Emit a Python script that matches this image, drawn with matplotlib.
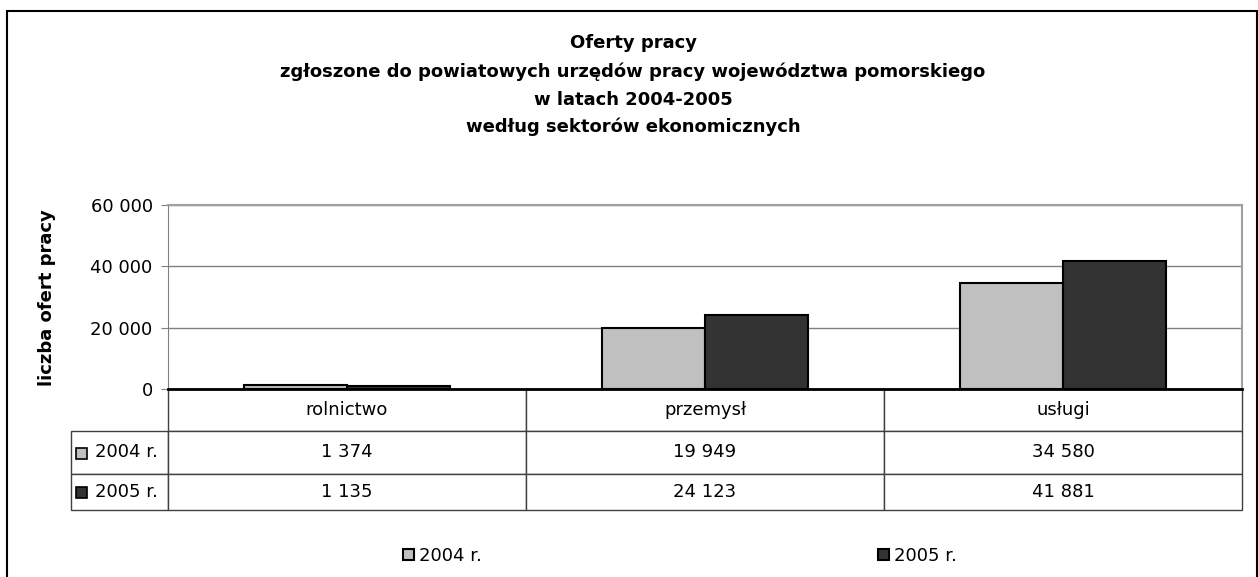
import matplotlib
matplotlib.use("Agg")
import matplotlib.pyplot as plt
from matplotlib.patches import Rectangle
from matplotlib.table import Table
from matplotlib.ticker import FuncFormatter

plt.rcParams['font.family'] = ['DejaVu Sans']

# Oferty pracy wg sektorow ekonomicznych, woj. pomorskie
sectors = ["rolnictwo", "przemysł", "usługi"]
years = ["2004 r.", "2005 r."]
offers_2004 = [1374, 19949, 34580]
offers_2005 = [1135, 24123, 41881]
colors = ["#c0c0c0", "#333333"]

title_lines = ["Oferty pracy",
               "zgłoszone do powiatowych urzędów pracy województwa pomorskiego",
               "w latach 2004-2005",
               "według sektorów ekonomicznych"]

W, H = 1258, 577
fig = plt.figure(figsize=(W / 100, H / 100), dpi=100)

# outer chart frame
fig.add_artist(Rectangle((7 / W, -0.1), 1250 / W, 1.1 - 11 / H, transform=fig.transFigure,
                         fill=False, edgecolor="black", lw=1.5))

AW, AH = 1074, 184
ax = fig.add_axes([168 / W, 1 - 389 / H, AW / W, AH / H])

x = list(range(len(sectors)))
bw = 0.288
for i, vals in enumerate([offers_2004, offers_2005]):
    pos = [p + (i - 0.5) * bw for p in x]
    ax.bar(pos, vals, width=bw, color=colors[i], edgecolor="black", lw=1.5,
           label=years[i], zorder=3)

ax.set_xlim(-0.5, len(sectors) - 0.5)
ax.set_ylim(0, 60000)
ax.set_yticks([0, 20000, 40000, 60000])
ax.yaxis.set_major_formatter(FuncFormatter(lambda v, p: "{:,}".format(int(v)).replace(",", " ")))
ax.set_xticks([])
ax.tick_params(axis="y", direction="out", length=5, color="#808080", labelsize=13, pad=6)
ax.grid(axis="y", color="#808080", lw=1, zorder=0)
ax.spines["bottom"].set_color("black")
ax.spines["bottom"].set_linewidth(2)
ax.spines["bottom"].set_zorder(4)
ax.spines["left"].set_color("#808080")
for s in ["top", "right"]:
    ax.spines[s].set_color("#a0a0a0")
    ax.spines[s].set_linewidth(1.5)

fig.text(47 / W, 1 - 298 / H, "liczba ofert pracy", rotation=90, ha="center", va="center",
         fontsize=13, fontweight="bold")

for k, line in enumerate(title_lines):
    fig.text(633 / W, 1 - [43, 72, 100, 127][k] / H, line, ha="center", va="center",
             fontsize=13, fontweight="bold")

# data table under the axis (sizes in axes units)
heights = [42 / AH, 43 / AH, 36 / AH]
tbl = Table(ax, bbox=[0, -sum(heights), 1, sum(heights)])
for j, name in enumerate(sectors):
    tbl.add_cell(0, j, width=1 / 3, height=heights[0], text=name, loc="center",
                 edgecolor="#404040")
for r, vals in enumerate([offers_2004, offers_2005]):
    c = tbl.add_cell(r + 1, -1, width=97 / AW, height=heights[r + 1], text=years[r],
                     loc="left", edgecolor="#404040")
    c.PAD = 0.25
    for j, v in enumerate(vals):
        tbl.add_cell(r + 1, j, width=1 / 3, height=heights[r + 1],
                     text="{:,}".format(v).replace(",", " "), loc="center", edgecolor="#404040")
tbl.auto_set_font_size(False)
tbl.set_fontsize(13)
ax.add_table(tbl)

# legend keys inside the table row labels
for r in range(2):
    yc = [453, 492][r]
    fig.add_artist(Rectangle((76 / W, 1 - (yc + 5.5) / H), 11 / W, 11 / H,
                             transform=fig.transFigure, facecolor=colors[r],
                             edgecolor="black", lw=1.2))

fig.legend(loc="center", bbox_to_anchor=(680 / W, 1 - 556 / H), ncol=2, frameon=False,
           fontsize=13, handlelength=0.6, handleheight=0.6, handletextpad=0.3,
           columnspacing=21.9)

fig.savefig("out.png", dpi=100)
